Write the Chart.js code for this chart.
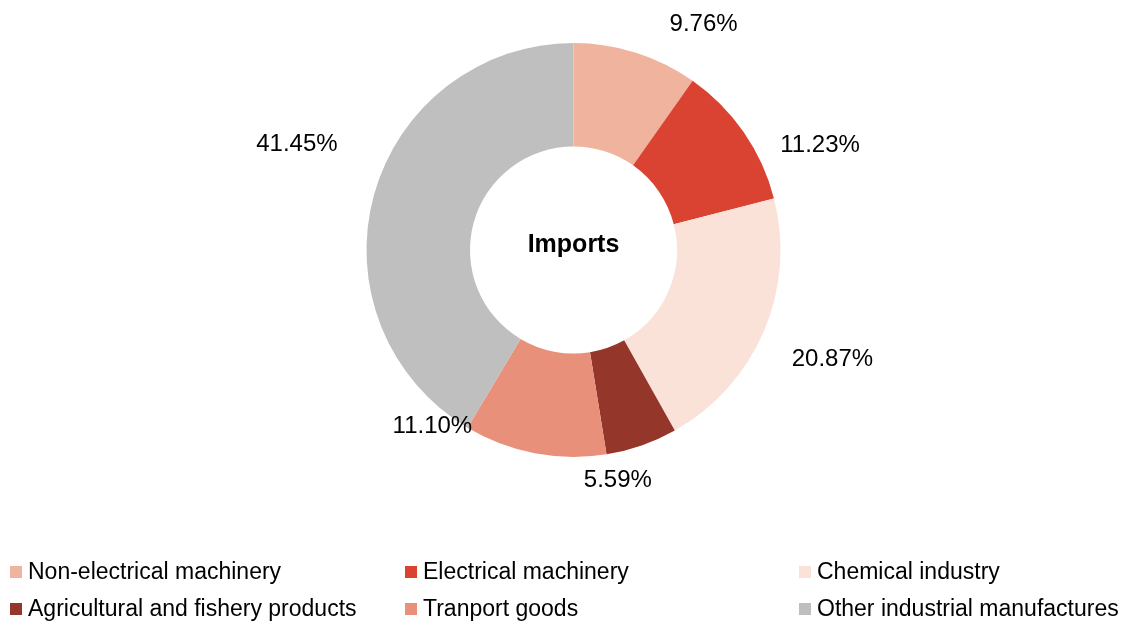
<!DOCTYPE html>
<html>
<head>
<meta charset="utf-8">
<script src="https://cdn.jsdelivr.net/npm/chart.js@4/dist/chart.umd.min.js"></script>
<style>
  html, body { margin: 0; padding: 0; background: #ffffff; }
  #wrap { width: 1127px; height: 625px; position: relative; }
</style>
</head>
<body>
<div id="wrap"><canvas id="c" width="1127" height="625"></canvas></div>
<script>
const categories = [
  "Non-electrical machinery",
  "Electrical machinery",
  "Chemical industry",
  "Agricultural and fishery products",
  "Tranport goods",
  "Other industrial manufactures"
];
const importShares = [9.76, 11.23, 20.87, 5.59, 11.10, 41.45];
const valueLabels = ["9.76%", "11.23%", "20.87%", "5.59%", "11.10%", "41.45%"];
const sliceColors = ["#F0B39E", "#DA4332", "#FBE2D9", "#94362A", "#E8907A", "#BFBFBF"];
const centerTitle = "Imports";

const FONT = "'Liberation Sans', Arial, sans-serif";

// label nudges relative to the slice mid-angle point (style only)
const labelNudges = [[51, 22], [31, 42], [18, 4], [-42, -19], [-92, -83], [-24, -38]];

const overlayPlugin = {
  id: 'overlay',
  afterDraw(chart) {
    const ctx = chart.ctx;
    const meta = chart.getDatasetMeta(0);
    ctx.save();
    // center title
    const a0 = meta.data[0];
    ctx.fillStyle = '#000';
    ctx.font = "bold 25px " + FONT;
    ctx.textAlign = 'center';
    ctx.textBaseline = 'alphabetic';
    ctx.fillText(centerTitle, a0.x, a0.y + 1.5);

    // value labels
    ctx.font = "24px " + FONT;
    meta.data.forEach((arc, i) => {
      const mid = (arc.startAngle + arc.endAngle) / 2;
      const d = arc.outerRadius + 55;
      const x = arc.x + Math.cos(mid) * d + labelNudges[i][0];
      const y = arc.y + Math.sin(mid) * d + labelNudges[i][1];
      ctx.fillText(valueLabels[i], x, y + 8.6);
    });

    // legend grid (3 columns x 2 rows)
    const colX = [10, 405, 799];
    const rowTop = [566, 603];
    ctx.textAlign = 'left';
    ctx.font = "23px " + FONT;
    categories.forEach((name, i) => {
      const cx = colX[i % 3];
      const ry = rowTop[Math.floor(i / 3)];
      ctx.fillStyle = sliceColors[i];
      ctx.fillRect(cx, ry, 12, 12);
      ctx.fillStyle = '#000';
      ctx.fillText(name, cx + 18, ry + 12.5);
    });
    ctx.restore();
  }
};

new Chart(document.getElementById('c'), {
  type: 'doughnut',
  data: {
    labels: categories,
    datasets: [{
      data: importShares,
      backgroundColor: sliceColors,
      borderWidth: 0,
      hoverOffset: 0
    }]
  },
  options: {
    responsive: false,
    animation: false,
    cutout: '50%',
    layout: { padding: { top: 43, bottom: 168, left: 20, right: 0 } },
    plugins: {
      legend: { display: false },
      tooltip: { enabled: false }
    }
  },
  plugins: [overlayPlugin]
});
</script>
</body>
</html>
